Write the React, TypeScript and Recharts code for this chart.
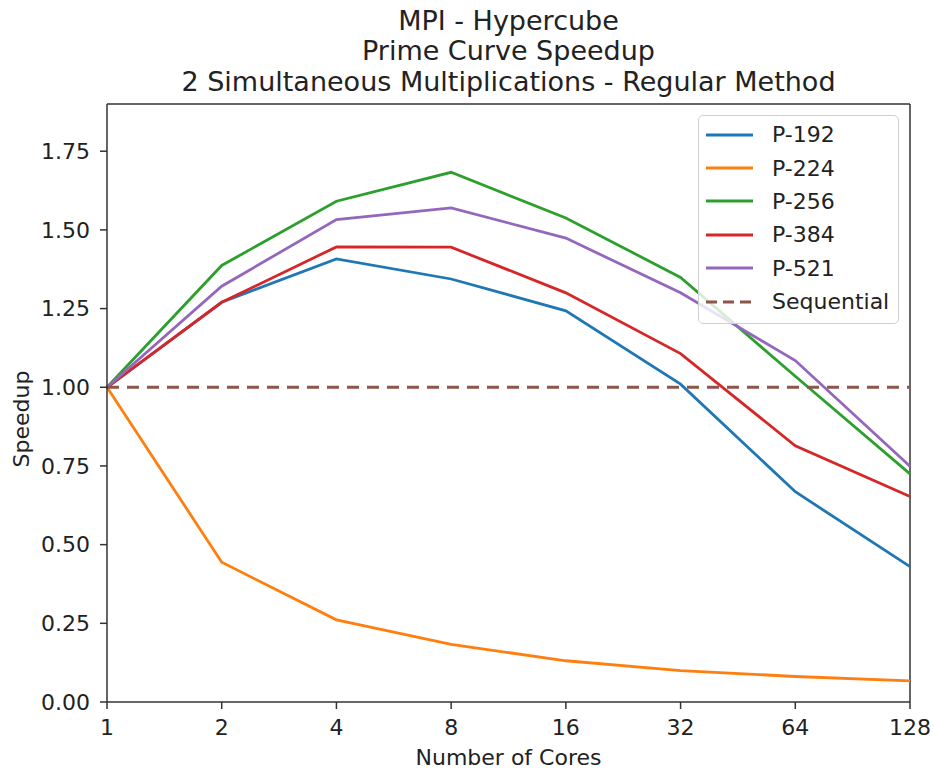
import React from "react";
import { LineChart, Line, XAxis, YAxis, Legend, ReferenceLine } from "recharts";

const cores = ["1", "2", "4", "8", "16", "32", "64", "128"];
const p192 = [1.0, 1.27, 1.408, 1.344, 1.243, 1.01, 0.668, 0.43];
const p224 = [1.0, 0.444, 0.261, 0.183, 0.131, 0.1, 0.081, 0.067];
const p256 = [1.0, 1.387, 1.591, 1.683, 1.538, 1.349, 1.035, 0.725];
const p384 = [1.0, 1.27, 1.446, 1.445, 1.3, 1.107, 0.814, 0.653];
const p521 = [1.0, 1.321, 1.533, 1.57, 1.474, 1.3, 1.085, 0.749];
const sequential = [1, 1, 1, 1, 1, 1, 1, 1];
const yTicks = [0, 0.25, 0.5, 0.75, 1.0, 1.25, 1.5, 1.75];
const yMax = 1.9;
const titleLines = ["MPI - Hypercube", "Prime Curve Speedup", "2 Simultaneous Multiplications - Regular Method"];

const series = [
  { key: "P-192", color: "#1f77b4", dashed: false },
  { key: "P-224", color: "#ff7f0e", dashed: false },
  { key: "P-256", color: "#2ca02c", dashed: false },
  { key: "P-384", color: "#d62728", dashed: false },
  { key: "P-521", color: "#9467bd", dashed: false },
  { key: "Sequential", color: "#8c564b", dashed: true },
];

const data = cores.map((c, i) => ({
  cores: c,
  "P-192": p192[i],
  "P-224": p224[i],
  "P-256": p256[i],
  "P-384": p384[i],
  "P-521": p521[i],
  Sequential: sequential[i],
}));

const FONT = "'DejaVu Sans', sans-serif";
const AXIS = "#333";

function LegendBox() {
  return (
    <div
      style={{
        width: 199,
        height: 205,
        border: "1px solid #d0d0d0",
        borderRadius: 5,
        background: "rgba(255,255,255,0.8)",
        fontFamily: FONT,
        fontSize: 22,
        color: "#222",
        paddingTop: 2,
        boxSizing: "content-box",
      }}
    >
      {series.map((s) => (
        <div key={s.key} style={{ display: "flex", alignItems: "center", height: 33.4 }}>
          <svg width={66} height={10} style={{ marginLeft: 7 }}>
            <line
              x1={0}
              y1={5}
              x2={47}
              y2={5}
              stroke={s.color}
              strokeWidth={3}
              strokeDasharray={s.dashed ? "11 6" : undefined}
            />
          </svg>
          <span>{s.key}</span>
        </div>
      ))}
    </div>
  );
}

export default function App() {
  return (
    <div style={{ position: "absolute", left: 0, top: 0, width: 934, height: 771, background: "#fff" }}>
      <LineChart width={934} height={771} data={data} margin={{ top: 104, right: 24, bottom: 0, left: 0 }}>
        <XAxis
          dataKey="cores"
          height={69}
          tickSize={7}
          tickMargin={10}
          tick={{ fill: "#222", fontSize: 22, fontFamily: FONT }}
          tickLine={{ stroke: AXIS, strokeWidth: 1.5 }}
          axisLine={{ stroke: AXIS, strokeWidth: 1.5 }}
        />
        <YAxis
          width={107}
          domain={[0, yMax]}
          ticks={yTicks}
          allowDataOverflow
          tickSize={7}
          tickMargin={10}
          tickFormatter={(v: number) => v.toFixed(2)}
          tick={{ fill: "#222", fontSize: 22, fontFamily: FONT }}
          tickLine={{ stroke: AXIS, strokeWidth: 1.5 }}
          axisLine={{ stroke: AXIS, strokeWidth: 1.5 }}
        />
        {/* top and right spines */}
        <ReferenceLine y={yMax} stroke={AXIS} strokeWidth={1.5} />
        <ReferenceLine x={cores[cores.length - 1]} stroke={AXIS} strokeWidth={1.5} />
        {series.map((s) => (
          <Line
            key={s.key}
            type="linear"
            dataKey={s.key}
            stroke={s.color}
            strokeWidth={2.8}
            strokeDasharray={s.dashed ? "12 8" : undefined}
            dot={false}
            activeDot={false}
            isAnimationActive={false}
          />
        ))}
        <Legend
          layout="vertical"
          align="center"
          verticalAlign="middle"
          content={() => <LegendBox />}
          wrapperStyle={{ top: 115, left: 698, width: 201 }}
        />
      </LineChart>
      <svg
        width={934}
        height={771}
        style={{ position: "absolute", left: 0, top: 0, pointerEvents: "none" }}
        fontFamily={FONT}
        fill="#222"
      >
        {titleLines.map((t, i) => (
          <text key={t} x={508.5} y={30 + i * 30.4} textAnchor="middle" fontSize={27}>
            {t}
          </text>
        ))}
        <text x={508.5} y={765} textAnchor="middle" fontSize={22}>
          Number of Cores
        </text>
        <text x={29} y={419} textAnchor="middle" fontSize={22} transform="rotate(-90 29 419)">
          Speedup
        </text>
      </svg>
    </div>
  );
}
